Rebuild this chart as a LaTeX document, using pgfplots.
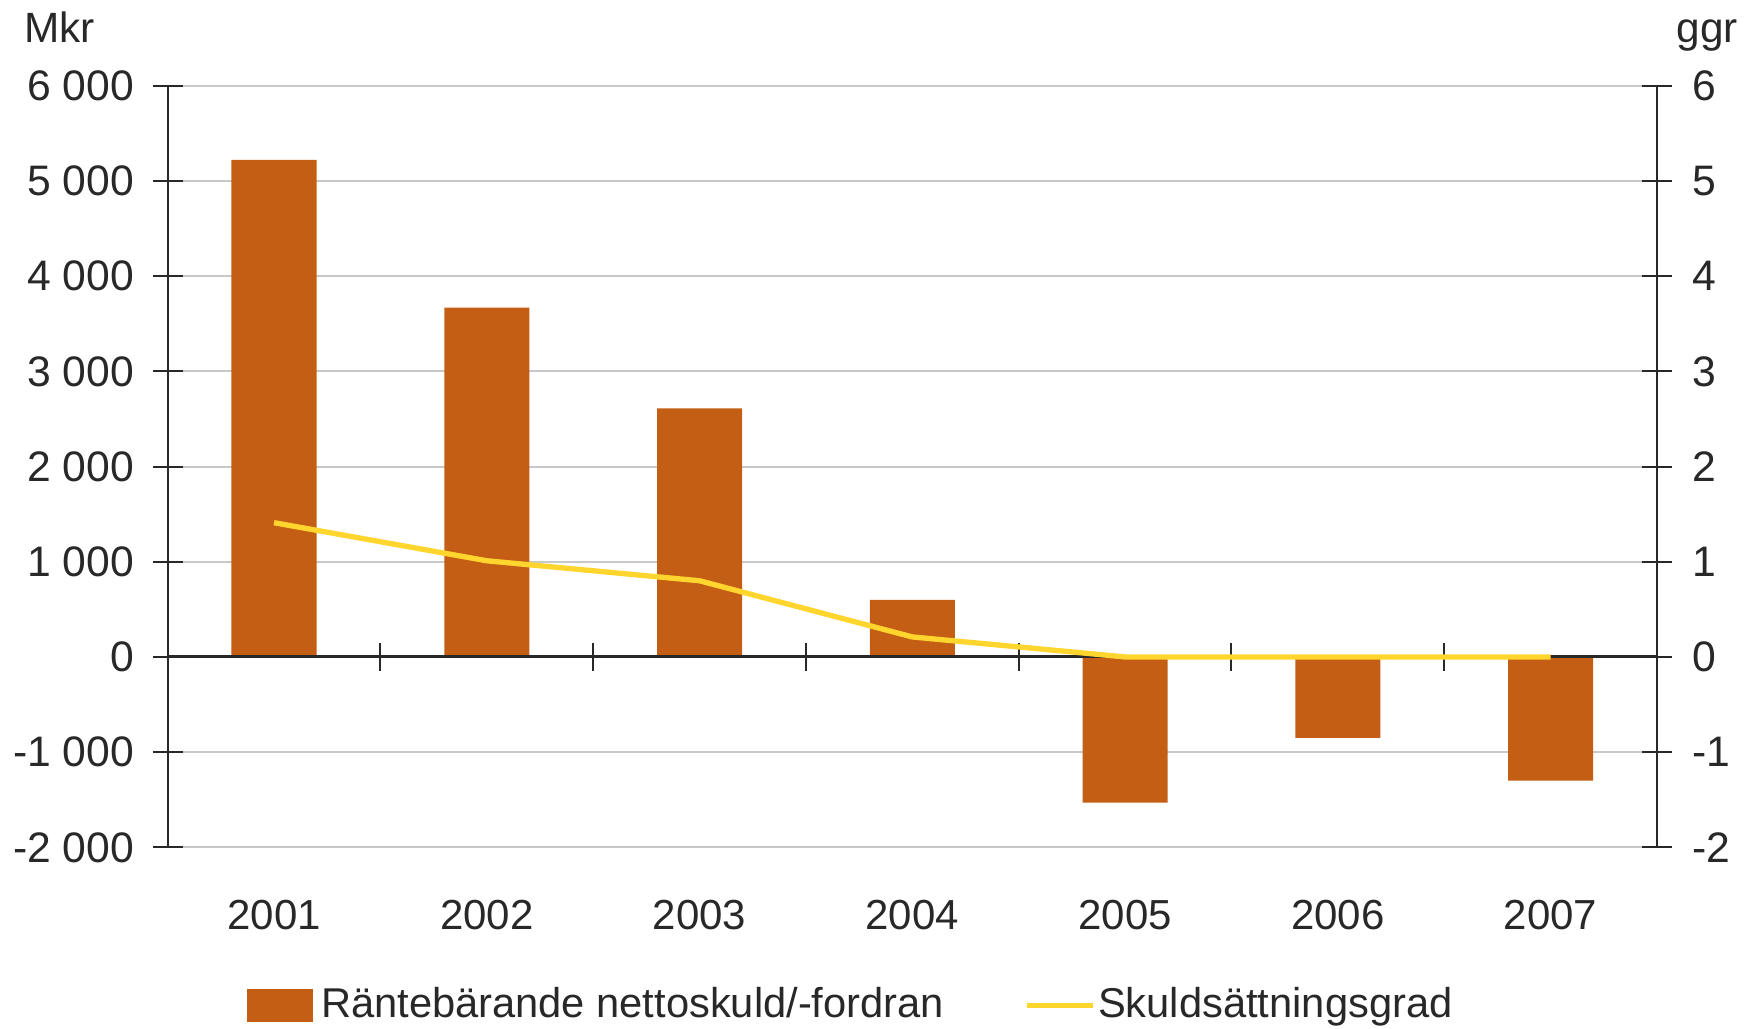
\documentclass[border=0pt]{standalone}
\usepackage{pgfplots}
\pgfplotsset{compat=1.18}
\usepackage{fontspec}
\setmainfont{Liberation Sans}
\definecolor{barc}{RGB}{196,94,20}
\definecolor{linec}{RGB}{255,213,46}
\definecolor{txt}{RGB}{40,40,40}
\definecolor{gridc}{RGB}{200,200,200}
\begin{document}
\fontsize{12.7}{15}\selectfont
\begin{tikzpicture}
\path[use as bounding box] (-50.3pt,-54.2pt) rectangle (476.5pt,254.2pt);
\pgfplotsset{
  base/.style={scale only axis, width=446.8pt, height=228.5pt,
    xmin=-0.5, xmax=6.5, tick align=center, major tick length=9pt,
    every tick/.style={txt, line width=0.6pt},
    axis line style={txt, line width=0.6pt},
    tick label style={text=txt, font=\fontsize{12.8}{15}\selectfont}},
}
\begin{axis}[base,
  axis y line*=left, axis x line*=bottom,
  x axis line style={draw=none},
  ymin=-2000, ymax=6000,
  ytick={-2000,-1000,0,1000,2000,3000,4000,5000,6000},
  yticklabels={-2 000,-1 000,0,1 000,2 000,3 000,4 000,5 000,6 000},
  yticklabel style={anchor=east, inner sep=0pt, xshift=-5.4pt},
  xtick={0,1,2,3,4,5,6},
  xticklabels={2001,2002,2003,2004,2005,2006,2007},
  xtick style={draw=none},
  xticklabel style={anchor=base, inner sep=0pt, yshift=-20.2pt, font=\fontsize{12.6}{15}\selectfont},
  ymajorgrids, grid style={gridc, line width=0.6pt},
]
\addplot[ybar, bar width=0.4, bar shift=0pt, fill=barc, draw=none] coordinates {(0,5220)(1,3670)(2,2610)(3,600)(4,-1530)(5,-850)(6,-1300)};
\draw[txt, line width=0.9pt] (axis cs:-0.5,0) -- (axis cs:6.5,0);
\pgfplotsinvokeforeach{0.5,1.5,2.5,3.5,4.5,5.5}{
  \draw[txt, line width=0.6pt] ([yshift=-4.2pt]axis cs:#1,0) -- ([yshift=4.2pt]axis cs:#1,0);
}
\end{axis}
\begin{axis}[base,
  axis y line*=right, axis x line=none,
  ymin=-2, ymax=6,
  ytick={-2,-1,0,1,2,3,4,5,6},
  yticklabels={-2,-1,0,1,2,3,4,5,6},
  yticklabel style={anchor=west, inner sep=0pt, xshift=5.8pt},
  legend columns=2,
  legend style={at={(0.0526,-0.2077)}, anchor=west, draw=none, fill=none, inner sep=0pt,
    nodes={inner sep=0pt, text=txt, font=\fontsize{12.5}{15}\selectfont},
    /tikz/every odd column/.append style={column sep=2.4pt},
    /tikz/every even column/.append style={column sep=24pt}},
]
\addlegendimage{legend image code/.code={\fill[barc] (0pt,-4.65pt) rectangle (19.5pt,4.65pt);}}
\addlegendentry{Räntebärande nettoskuld/-fordran}
\addplot[linec, line width=1.6pt, legend image code/.code={\draw[linec, line width=1.6pt] (0pt,0pt) -- (19.8pt,0pt);}] coordinates {(0,1.41)(1,1.01)(2,0.80)(3,0.21)(4,0)(5,0)(6,0)};
\addlegendentry{\hspace*{-1.6pt}Skuldsättningsgrad}
\end{axis}
\node[anchor=base west, inner sep=0pt, text=txt] at (-43.2pt,241.4pt) {Mkr};
\node[anchor=base west, inner sep=0pt, text=txt] at (452.5pt,241.4pt) {ggr};
\end{tikzpicture}
\end{document}
